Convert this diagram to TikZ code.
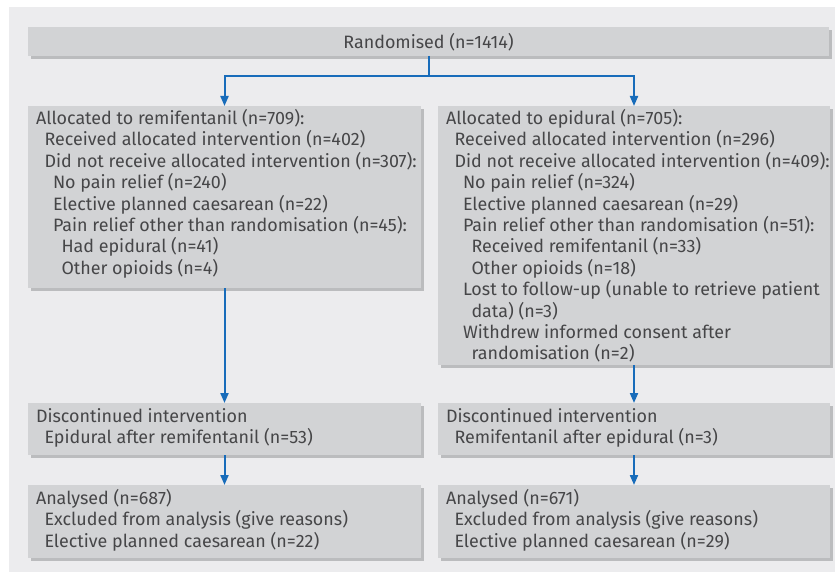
\documentclass[tikz,border=0pt]{standalone}
\usepackage{fontspec}
\setmainfont{Fira Sans}
\usetikzlibrary{arrows.meta,shadows,calc}
\definecolor{bgc}{RGB}{236,236,238}
\definecolor{boxc}{RGB}{210,211,213}
\definecolor{shc}{RGB}{187,188,190}
\definecolor{txc}{RGB}{70,70,72}
\definecolor{arc}{RGB}{24,108,186}
\newcommand{\indA}{\hspace*{8.5bp}}
\newcommand{\indB}{\hspace*{17bp}}
\newcommand{\indC}{\hspace*{25.5bp}}
\tikzset{
  box/.style={fill=boxc, draw=none, inner sep=0pt, outer sep=0pt, anchor=north west,
    drop shadow={shadow xshift=3bp, shadow yshift=-3bp, fill=shc, opacity=1}},
  txt/.style={inner sep=0pt, outer sep=0pt, text=txc, anchor=base west,
    font=\fontsize{17.9bp}{21.4bp}\selectfont},
  ln/.style={draw=arc, line width=2bp},
  arr/.style={ln, -{Triangle[width=8bp,length=10bp]}}
}
\begin{document}
\begin{tikzpicture}[x=1bp,y=-1bp]
\useasboundingbox (0,0) rectangle (835,572);
\fill[bgc] (9,7) rectangle (835,572);
% boxes
\node[box, minimum width=801bp, minimum height=29bp] (b1) at (28,27) {};
\node[box, minimum width=393bp, minimum height=182bp] (b2l) at (28,106) {};
\node[box, minimum width=392bp, minimum height=259bp] (b2r) at (438,106) {};
\node[box, minimum width=393bp, minimum height=52bp] (b3l) at (28,403) {};
\node[box, minimum width=392bp, minimum height=52bp] (b3r) at (438,403) {};
\node[box, minimum width=393bp, minimum height=73bp] (b4l) at (28,485) {};
\node[box, minimum width=392bp, minimum height=73bp] (b4r) at (438,485) {};
% texts
\node[txt, anchor=center] (t1) at ($(b1.center)+(0,0.5)$) {Randomised (n=1414)};
\node[txt] (t2l) at ($(b2l.north west)+(8,18.5)$) {\parbox[t]{390bp}{%
Allocated to remifentanil (n=709):\\
\indA Received allocated intervention (n=402)\\
\indA Did not receive allocated intervention (n=307):\\
\indB No pain relief (n=240)\\
\indB Elective planned caesarean (n=22)\\
\indB Pain relief other than randomisation (n=45):\\
\indC Had epidural (n=41)\\
\indC Other opioids (n=4)}};
\node[txt] (t2r) at ($(b2r.north west)+(8,18.5)$) {\parbox[t]{390bp}{%
Allocated to epidural (n=705):\\
\indA Received allocated intervention (n=296)\\
\indA Did not receive allocated intervention (n=409):\\
\indB No pain relief (n=324)\\
\indB Elective planned caesarean (n=29)\\
\indB Pain relief other than randomisation (n=51):\\
\indC Received remifentanil (n=33)\\
\indC Other opioids (n=18)\\
\indB Lost to follow-up (unable to retrieve patient\\
\indC data) (n=3)\\
\indB Withdrew informed consent after\\
\indC randomisation (n=2)}};
\node[txt] (t3l) at ($(b3l.north west)+(8,19)$) {\parbox[t]{390bp}{%
Discontinued intervention\\
\indA Epidural after remifentanil (n=53)}};
\node[txt] (t3r) at ($(b3r.north west)+(8,19)$) {\parbox[t]{390bp}{%
Discontinued intervention\\
\indA Remifentanil after epidural (n=3)}};
\node[txt] (t4l) at ($(b4l.north west)+(8,19.5)$) {\parbox[t]{390bp}{%
Analysed (n=687)\\
\indA Excluded from analysis (give reasons)\\
\indA Elective planned caesarean (n=22)}};
\node[txt] (t4r) at ($(b4r.north west)+(8,19.5)$) {\parbox[t]{390bp}{%
Analysed (n=671)\\
\indA Excluded from analysis (give reasons)\\
\indA Elective planned caesarean (n=29)}};
% connectors
\draw[ln] (b1.south) -- ++(0,20) coordinate (fork);
\draw[arr] (fork) -| (b2l.north);
\draw[arr] (fork) -| (b2r.north);
\draw[arr] (b2l.south) -- (b3l.north);
\draw[arr] (b2r.south) -- (b3r.north);
\draw[arr] (b3l.south) -- (b4l.north);
\draw[arr] (b3r.south) -- (b4r.north);
\end{tikzpicture}
\end{document}
